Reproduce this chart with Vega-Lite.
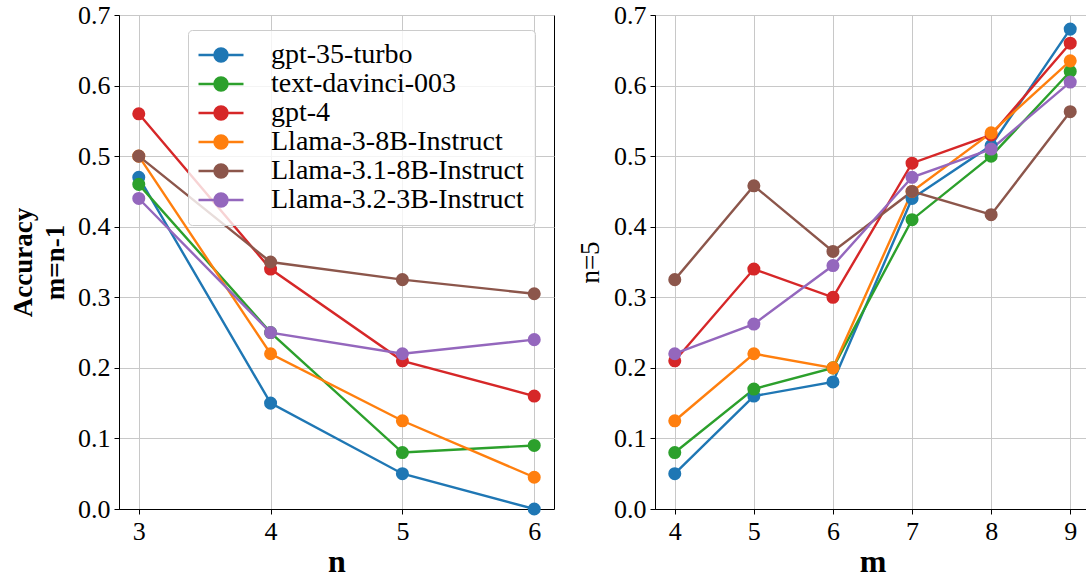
{
  "$schema": "https://vega.github.io/schema/vega-lite/v6.json",
  "padding": {"left": 9, "top": 1, "right": 0, "bottom": 0},
  "background": "white",
  "datasets": {
    "byN": [
      {"model": "gpt-35-turbo", "n": 3, "acc": 0.47},
      {"model": "gpt-35-turbo", "n": 4, "acc": 0.15},
      {"model": "gpt-35-turbo", "n": 5, "acc": 0.05},
      {"model": "gpt-35-turbo", "n": 6, "acc": 0.0},
      {"model": "text-davinci-003", "n": 3, "acc": 0.46},
      {"model": "text-davinci-003", "n": 4, "acc": 0.25},
      {"model": "text-davinci-003", "n": 5, "acc": 0.08},
      {"model": "text-davinci-003", "n": 6, "acc": 0.09},
      {"model": "gpt-4", "n": 3, "acc": 0.56},
      {"model": "gpt-4", "n": 4, "acc": 0.34},
      {"model": "gpt-4", "n": 5, "acc": 0.21},
      {"model": "gpt-4", "n": 6, "acc": 0.16},
      {"model": "Llama-3-8B-Instruct", "n": 3, "acc": 0.5},
      {"model": "Llama-3-8B-Instruct", "n": 4, "acc": 0.22},
      {"model": "Llama-3-8B-Instruct", "n": 5, "acc": 0.125},
      {"model": "Llama-3-8B-Instruct", "n": 6, "acc": 0.045},
      {"model": "Llama-3.1-8B-Instruct", "n": 3, "acc": 0.5},
      {"model": "Llama-3.1-8B-Instruct", "n": 4, "acc": 0.35},
      {"model": "Llama-3.1-8B-Instruct", "n": 5, "acc": 0.325},
      {"model": "Llama-3.1-8B-Instruct", "n": 6, "acc": 0.305},
      {"model": "Llama-3.2-3B-Instruct", "n": 3, "acc": 0.44},
      {"model": "Llama-3.2-3B-Instruct", "n": 4, "acc": 0.25},
      {"model": "Llama-3.2-3B-Instruct", "n": 5, "acc": 0.22},
      {"model": "Llama-3.2-3B-Instruct", "n": 6, "acc": 0.24}
    ],
    "byM": [
      {"model": "gpt-35-turbo", "m": 4, "acc": 0.05},
      {"model": "gpt-35-turbo", "m": 5, "acc": 0.16},
      {"model": "gpt-35-turbo", "m": 6, "acc": 0.18},
      {"model": "gpt-35-turbo", "m": 7, "acc": 0.44},
      {"model": "gpt-35-turbo", "m": 8, "acc": 0.515},
      {"model": "gpt-35-turbo", "m": 9, "acc": 0.68},
      {"model": "text-davinci-003", "m": 4, "acc": 0.08},
      {"model": "text-davinci-003", "m": 5, "acc": 0.17},
      {"model": "text-davinci-003", "m": 6, "acc": 0.2},
      {"model": "text-davinci-003", "m": 7, "acc": 0.41},
      {"model": "text-davinci-003", "m": 8, "acc": 0.5},
      {"model": "text-davinci-003", "m": 9, "acc": 0.62},
      {"model": "gpt-4", "m": 4, "acc": 0.21},
      {"model": "gpt-4", "m": 5, "acc": 0.34},
      {"model": "gpt-4", "m": 6, "acc": 0.3},
      {"model": "gpt-4", "m": 7, "acc": 0.49},
      {"model": "gpt-4", "m": 8, "acc": 0.53},
      {"model": "gpt-4", "m": 9, "acc": 0.66},
      {"model": "Llama-3-8B-Instruct", "m": 4, "acc": 0.125},
      {"model": "Llama-3-8B-Instruct", "m": 5, "acc": 0.22},
      {"model": "Llama-3-8B-Instruct", "m": 6, "acc": 0.2},
      {"model": "Llama-3-8B-Instruct", "m": 7, "acc": 0.45},
      {"model": "Llama-3-8B-Instruct", "m": 8, "acc": 0.533},
      {"model": "Llama-3-8B-Instruct", "m": 9, "acc": 0.635},
      {"model": "Llama-3.1-8B-Instruct", "m": 4, "acc": 0.325},
      {"model": "Llama-3.1-8B-Instruct", "m": 5, "acc": 0.458},
      {"model": "Llama-3.1-8B-Instruct", "m": 6, "acc": 0.365},
      {"model": "Llama-3.1-8B-Instruct", "m": 7, "acc": 0.45},
      {"model": "Llama-3.1-8B-Instruct", "m": 8, "acc": 0.417},
      {"model": "Llama-3.1-8B-Instruct", "m": 9, "acc": 0.563},
      {"model": "Llama-3.2-3B-Instruct", "m": 4, "acc": 0.22},
      {"model": "Llama-3.2-3B-Instruct", "m": 5, "acc": 0.262},
      {"model": "Llama-3.2-3B-Instruct", "m": 6, "acc": 0.345},
      {"model": "Llama-3.2-3B-Instruct", "m": 7, "acc": 0.47},
      {"model": "Llama-3.2-3B-Instruct", "m": 8, "acc": 0.51},
      {"model": "Llama-3.2-3B-Instruct", "m": 9, "acc": 0.605}
    ]
  },
  "config": {
    "font": "Liberation Serif",
    "view": {"stroke": "black", "strokeWidth": 1},
    "axis": {
      "labelFont": "Liberation Serif",
      "labelFontSize": 26,
      "labelColor": "black",
      "titleFont": "Liberation Serif",
      "titleColor": "black",
      "domainColor": "black",
      "tickColor": "black",
      "tickSize": 5,
      "labelPadding": 4,
      "gridColor": "#c8c8c8",
      "gridWidth": 1,
      "labelFlush": false,
      "labelOverlap": false
    },
    "line": {"strokeWidth": 2.4},
    "point": {"size": 170, "filled": true, "opacity": 1}
  },
  "spacing": 21,
  "resolve": {"legend": {"color": "independent"}},
  "hconcat": [
    {
      "width": 435,
      "height": 494,
      "data": {"name": "byN"},
      "mark": {"type": "line", "point": {"size": 170, "filled": true}},
      "encoding": {
        "x": {
          "field": "n", "type": "quantitative",
          "scale": {"domain": [2.85, 6.15], "nice": false, "zero": false},
          "axis": {"values": [3, 4, 5, 6], "format": "d", "title": "n",
                   "titleFontSize": 32, "titleFontWeight": "bold", "titlePadding": 2}
        },
        "y": {
          "field": "acc", "type": "quantitative",
          "scale": {"domain": [0, 0.7], "nice": false},
          "axis": {"values": [0, 0.1, 0.2, 0.3, 0.4, 0.5, 0.6, 0.7], "format": ".1f",
                   "title": ["Accuracy", "m=n-1"], "titleFontSize": 27,
                   "titleFontWeight": "bold", "titleLineHeight": 32, "titlePadding": 8}
        },
        "color": {
          "field": "model", "type": "nominal",
          "scale": {
            "domain": ["gpt-35-turbo", "text-davinci-003", "gpt-4", "Llama-3-8B-Instruct", "Llama-3.1-8B-Instruct", "Llama-3.2-3B-Instruct"],
            "range": ["#1f77b4", "#2ca02c", "#d62728", "#ff7f0e", "#8c564b", "#9467bd"]
          },
          "legend": {
            "title": null,
            "orient": "none",
            "legendX": 69,
            "legendY": 15,
            "labelFont": "Liberation Serif",
            "labelFontSize": 28,
            "labelColor": "black",
            "labelLimit": 0,
            "symbolType": "M-2,0L2,0M0.58,0A0.58,0.58,0,1,1,-0.58,0A0.58,0.58,0,1,1,0.58,0Z",
            "symbolSize": 506,
            "symbolStrokeWidth": 2.4,
            "symbolOffset": 8,
            "labelOffset": 36,
            "rowPadding": 1,
            "padding": 11,
            "fillColor": "rgba(255,255,255,0.8)",
            "strokeColor": "#cccccc",
            "cornerRadius": 4,
            "encode": {
              "symbols": {"update": {"fill": {"scale": "color", "field": "value"}, "fillOpacity": {"value": 1}, "opacity": {"value": 1}}}
            }
          }
        }
      }
    },
    {
      "width": 435,
      "height": 494,
      "data": {"name": "byM"},
      "mark": {"type": "line", "point": {"size": 170, "filled": true}},
      "encoding": {
        "x": {
          "field": "m", "type": "quantitative",
          "scale": {"domain": [3.75, 9.25], "nice": false, "zero": false},
          "axis": {"values": [4, 5, 6, 7, 8, 9], "format": "d", "title": "m",
                   "titleFontSize": 32, "titleFontWeight": "bold", "titlePadding": 2}
        },
        "y": {
          "field": "acc", "type": "quantitative",
          "scale": {"domain": [0, 0.7], "nice": false},
          "axis": {"values": [0, 0.1, 0.2, 0.3, 0.4, 0.5, 0.6, 0.7], "format": ".1f",
                   "title": "n=5", "titleFontSize": 27, "titleFontWeight": "normal", "titlePadding": 9}
        },
        "color": {
          "field": "model", "type": "nominal",
          "scale": {
            "domain": ["gpt-35-turbo", "text-davinci-003", "gpt-4", "Llama-3-8B-Instruct", "Llama-3.1-8B-Instruct", "Llama-3.2-3B-Instruct"],
            "range": ["#1f77b4", "#2ca02c", "#d62728", "#ff7f0e", "#8c564b", "#9467bd"]
          },
          "legend": null
        }
      }
    }
  ]
}
